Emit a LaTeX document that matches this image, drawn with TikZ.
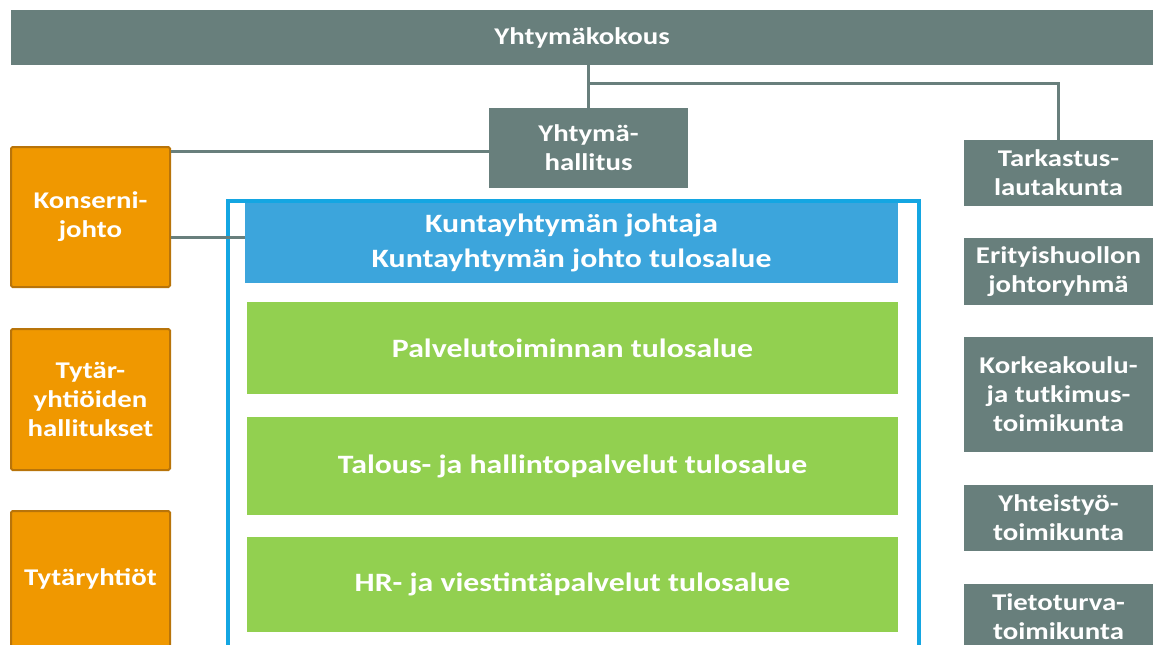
\documentclass[tikz,border=0pt]{standalone}
\usepackage{fontspec}
\setmainfont{Carlito}[FakeStretch=1.2]
\definecolor{harmaa}{RGB}{104,127,124}
\definecolor{oranssi}{RGB}{240,152,0}
\definecolor{oranssireuna}{RGB}{184,116,10}
\definecolor{sininen}{RGB}{60,165,220}
\definecolor{kehys}{RGB}{20,166,226}
\definecolor{vihrea}{RGB}{146,208,80}

\begin{document}
\begin{tikzpicture}[x=1pt,y=-1pt,
	box/.style={inner sep=0pt,text=white,align=center,font=\bfseries\fontsize{24}{29}\selectfont},
	gray box/.style={box,fill=harmaa},
	orange box/.style={box,fill=oranssi,draw=oranssireuna,line width=2pt,rounded corners=1.5pt},
	unit box/.style={box,fill=vihrea,minimum width=651,font=\bfseries\fontsize{26.5}{30}\selectfont},
	link/.style={draw=harmaa,line width=3pt}
]
	\useasboundingbox (0,0) rectangle (1157,645);

	\def \rx {1058.5};
	\def \rw {189};

	% ylin taso
	\node[gray box,minimum width=1142,minimum height=55] at (582,37.5) (kokous) {Yhtymäkokous};
	\node[gray box,minimum width=199,minimum height=80] at (588.5,148) (hallitus) {Yhtymä-\\hallitus};

	% oikea sarake
	\node[gray box,minimum width=\rw,minimum height=66] at (\rx,173) (tarkastus) {Tarkastus-\\lautakunta};
	\node[gray box,minimum width=\rw,minimum height=67] at (\rx,271.5) (erityis) {Erityishuollon\\johtoryhmä};
	\node[gray box,minimum width=\rw,minimum height=115] at (\rx,394.5) (korkea) {Korkeakoulu-\\ja tutkimus-\\toimikunta};
	\node[gray box,minimum width=\rw,minimum height=66] at (\rx,518) (yhteis) {Yhteistyö-\\toimikunta};
	\node[gray box,minimum width=\rw,minimum height=66] at (\rx,617) (tietoturva) {Tietoturva-\\toimikunta};

	% vasen sarake
	\node[orange box,minimum width=159,minimum height=140] at (90.5,217) (konserni) {Konserni-\\johto};
	\node[orange box,minimum width=159,minimum height=141] at (90.5,399.5) (hallitukset) {Tytär-\\yhtiöiden\\hallitukset};
	\node[orange box,minimum width=159,minimum height=136] at (90.5,579) (yhtiot) {Tytäryhtiöt};

	% kuntayhtymän johto ja tulosalueet
	\draw[kehys,line width=4pt] (228,201) rectangle (919,670);
	\node[box,fill=sininen,minimum width=653,minimum height=80,font=\bfseries\fontsize{26.5}{35}\selectfont] at (571.5,243) (johtaja) {Kuntayhtymän johtaja\\Kuntayhtymän johto tulosalue};
	\node[unit box,minimum height=92] at (572.5,348) (palvelu) {Palvelutoiminnan tulosalue};
	\node[unit box,minimum height=98] at (572.5,466) (talous) {Talous- ja hallintopalvelut tulosalue};
	\node[unit box,minimum height=95] at (572.5,584) (hr) {HR- ja viestintäpalvelut tulosalue};

	% yhteydet
	\coordinate (haara) at (587,83);
	\draw[link] (hallitus.north |- kokous.south) -- (hallitus.north);
	\draw[link] (haara) -| (tarkastus.north);
	\draw[link] ([yshift=-5]konserni.north east) -- ([yshift=-5]konserni.north east -| hallitus.west);
	\draw[link] ([yshift=-20]konserni.east) -- ([yshift=-20]konserni.east -| johtaja.west);
\end{tikzpicture}
\end{document}
